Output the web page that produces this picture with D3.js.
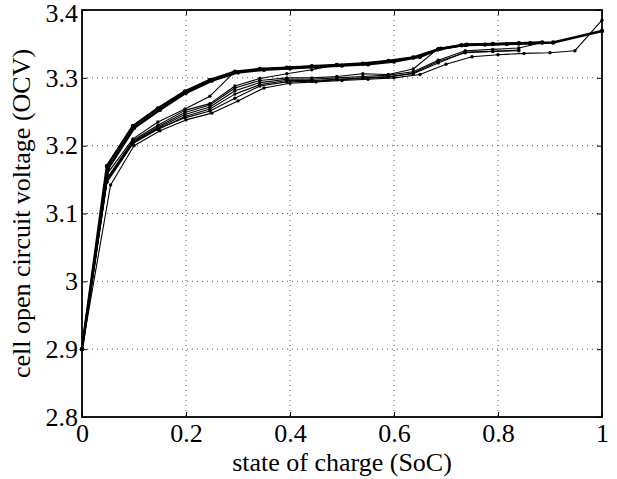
<!DOCTYPE html>
<html>
<head>
<meta charset="utf-8">
<script src="https://cdn.jsdelivr.net/npm/d3@7"></script>
<style>
    body { margin: 0; background: #fff; }
    svg { display: block; }
    text { font-family: "Liberation Serif", "Times New Roman", serif; fill: #000; }
</style>
</head>
<body>
<div id="chart"></div>
<script>
"use strict";

// tick labels
var xTicks = [0, 0.2, 0.4, 0.6, 0.8, 1];
var yTicks = [2.8, 2.9, 3.0, 3.1, 3.2, 3.3, 3.4];

// state of charge sampling of the measured cells
var socA = [0, .048, .098, .146, .198, .246, .294, .342, .394, .442, .49, .54, .589, .637, .685, .73, .775, .817, .862, .906, 1];
var socB = [0, .05, .1, .15, .2, .25, .3, .35, .4, .45, .5, .55, .6, .65, .69, .74, .79, .84, .885];
var socC = [0, .048, .098, .146, .198, .246, .294, .342, .394, .442, .49, .54, .589, .637, .685, .737, .79, .84, .885];
var socD = [0, .055, .1, .15, .2, .25, .3, .35, .4, .45, .5, .55, .6, .65, .7, .75, .8, .85, .9, .948, 1];

// open circuit voltage per cell
var ocvU1 = [2.900, 3.170, 3.229, 3.255, 3.280, 3.297, 3.309, 3.313, 3.315, 3.317, 3.319, 3.321, 3.325, 3.330, 3.342, 3.348, 3.349, 3.350, 3.351, 3.352, 3.369];
var ocvU2 = [2.900, 3.166, 3.226, 3.253, 3.278, 3.296, 3.308, 3.312, 3.314, 3.316, 3.318, 3.320, 3.324, 3.331, 3.343, 3.349, 3.350, 3.351, 3.352];
var ocvT1 = [2.900, 3.158, 3.210, 3.235, 3.254, 3.273, 3.309, 3.313, 3.315, 3.317, 3.319, 3.321, 3.325, 3.330, 3.342, 3.348, 3.349, 3.350];
var ocvT2 = [2.900, 3.152, 3.208, 3.230, 3.252, 3.262, 3.288, 3.299, 3.306, 3.312, 3.319, 3.321, 3.325, 3.330, 3.343, 3.348, 3.350, 3.351, 3.352];
var ocvT3 = [2.900, 3.150, 3.206, 3.228, 3.249, 3.260, 3.285, 3.296, 3.300, 3.300, 3.302, 3.306, 3.305, 3.313, 3.343, 3.348, 3.350, 3.351];
var ocvLa = [2.900, 3.148, 3.205, 3.226, 3.246, 3.257, 3.281, 3.293, 3.298, 3.298, 3.300, 3.302, 3.304, 3.309, 3.326, 3.340, 3.342, 3.344, 3.352];
var ocvLb = [2.900, 3.146, 3.203, 3.224, 3.243, 3.254, 3.276, 3.290, 3.296, 3.296, 3.298, 3.300, 3.302, 3.306, 3.322, 3.338, 3.339, 3.341];
var ocvLd = [2.900, 3.150, 3.204, 3.225, 3.241, 3.251, 3.270, 3.288, 3.294, 3.295, 3.297, 3.299, 3.301, 3.307, 3.324, 3.337, 3.339, 3.340];
var ocvLc = [2.900, 3.142, 3.200, 3.222, 3.238, 3.248, 3.266, 3.285, 3.292, 3.294, 3.296, 3.298, 3.300, 3.305, 3.320, 3.331, 3.334, 3.336, 3.337, 3.340, 3.385];

// series table: soc, ocv, line width
var series = [
    { soc: socD, ocv: ocvLc, w: 1.1 },
    { soc: socC, ocv: ocvLd, w: 1.1 },
    { soc: socC, ocv: ocvLb, w: 1.1 },
    { soc: socC, ocv: ocvLa, w: 1.1 },
    { soc: socC, ocv: ocvT3, w: 1.1 },
    { soc: socC, ocv: ocvT2, w: 1.1 },
    { soc: socC, ocv: ocvT1, w: 1.1 },
    { soc: socB, ocv: ocvU2, w: 2.5 },
    { soc: socA, ocv: ocvU1, w: 2.5 }
];

var width = 617, height = 479;
var margin = { top: 10, right: 15, bottom: 62, left: 82 };
var innerW = width - margin.left - margin.right;
var innerH = height - margin.top - margin.bottom;

var svg = d3.select("#chart").append("svg")
    .attr("width", width)
    .attr("height", height);

var g = svg.append("g")
    .attr("transform", "translate(" + margin.left + "," + margin.top + ")");

var x = d3.scaleLinear().domain([0, 1]).range([0, innerW]);
var y = d3.scaleLinear().domain([2.8, 3.4]).range([innerH, 0]);

// dotted grid
g.append("g").selectAll("line")
    .data(xTicks.slice(1, -1))
    .enter().append("line")
    .attr("x1", function(d) { return x(d); })
    .attr("x2", function(d) { return x(d); })
    .attr("y1", 0).attr("y2", innerH)
    .attr("stroke", "#555").attr("stroke-width", 1)
    .attr("stroke-dasharray", "1,4");

g.append("g").selectAll("line")
    .data(yTicks.slice(1, -1))
    .enter().append("line")
    .attr("y1", function(d) { return y(d); })
    .attr("y2", function(d) { return y(d); })
    .attr("x1", 0).attr("x2", innerW)
    .attr("stroke", "#555").attr("stroke-width", 1)
    .attr("stroke-dasharray", "1,4");

// curves
var line = d3.line()
    .x(function(d) { return x(d[0]); })
    .y(function(d) { return y(d[1]); });

series.forEach(function(s) {
    var pts = s.soc.slice(0, s.ocv.length).map(function(v, i) { return [v, s.ocv[i]]; });
    g.append("path")
        .datum(pts)
        .attr("d", line)
        .attr("fill", "none")
        .attr("stroke", "#000")
        .attr("stroke-width", s.w)
        .attr("stroke-linejoin", "round");
    g.append("g").selectAll("circle")
        .data(pts)
        .enter().append("circle")
        .attr("cx", function(d) { return x(d[0]); })
        .attr("cy", function(d) { return y(d[1]); })
        .attr("r", s.w > 2 ? 2.2 : 1.7)
        .attr("fill", "#000");
});

// axes with inward ticks on all four sides
var tickFmt = function(d) { return d3.format("~g")(d); };
g.append("g")
    .attr("transform", "translate(0," + innerH + ")")
    .call(d3.axisBottom(x).tickValues(xTicks).tickFormat(tickFmt).tickSizeInner(-5).tickSizeOuter(0).tickPadding(7));
g.append("g")
    .call(d3.axisTop(x).tickValues(xTicks).tickFormat("").tickSizeInner(-5).tickSizeOuter(0));
g.append("g")
    .call(d3.axisLeft(y).tickValues(yTicks).tickFormat(tickFmt).tickSizeInner(-5).tickSizeOuter(0).tickPadding(4));
g.append("g")
    .attr("transform", "translate(" + innerW + ",0)")
    .call(d3.axisRight(y).tickValues(yTicks).tickFormat("").tickSizeInner(-5).tickSizeOuter(0));

g.selectAll(".domain").remove();
g.selectAll(".tick line").attr("stroke", "#000");
g.selectAll(".tick text")
    .style("font-size", "26px")
    .style("font-family", "'Liberation Serif', serif");

// keep the top label inside the frame
g.selectAll(".tick text")
    .filter(function(d) { return d === 3.4; })
    .attr("dy", "0.45em");

// box
g.append("rect")
    .attr("width", innerW).attr("height", innerH)
    .attr("fill", "none").attr("stroke", "#000").attr("stroke-width", 1.8);

// axis titles
svg.append("text")
    .attr("x", margin.left + innerW / 2)
    .attr("y", 471)
    .attr("text-anchor", "middle")
    .style("font-size", "26px")
    .text("state of charge (SoC)");

svg.append("text")
    .attr("transform", "translate(30," + (margin.top + innerH / 2) + ") rotate(-90)")
    .attr("text-anchor", "middle")
    .style("font-size", "26px")
    .text("cell open circuit voltage (OCV)");
</script>
</body>
</html>
